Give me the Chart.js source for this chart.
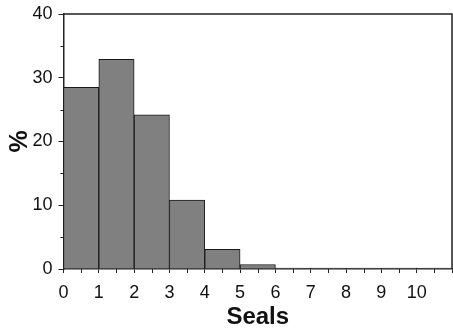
<!DOCTYPE html>
<html><head><meta charset="utf-8">
<script src="https://cdn.jsdelivr.net/npm/chart.js@4/dist/chart.umd.min.js"></script>
<style>html,body{margin:0;padding:0;background:#fff}#wrap{width:453px;height:334px}</style>
</head><body><div id="wrap"><canvas id="c" width="453" height="334"></canvas></div>
<script>
const binStarts = [0, 1, 2, 3, 4, 5, 6, 7, 8, 9, 10];
const percentages = [28.5, 32.9, 24.2, 10.8, 3.1, 0.7, 0.15, 0.15, 0.15, 0.15, 0.15];
const xTickLabels = ['0','1','2','3','4','5','6','7','8','9','10'];
const yTickLabels = ['0','10','20','30','40'];
const xMinorTicks = [0.5, 1.5, 2.5, 3.5, 4.5, 5.5, 6.5, 7.5, 8.5, 9.5, 10.5];
const yMinorTicks = [5, 15, 25, 35];
const xTitle = 'Seals';
const yTitle = '%';

const FONT = "'Liberation Sans', Arial, sans-serif";
const data = binStarts.map((s, i) => ({x: s + 0.5, y: percentages[i]}));

const framePlugin = {
  id: 'frame',
  afterDraw(chart) {
    const {ctx, chartArea: a, scales: {x, y}} = chart;
    ctx.save();
    ctx.strokeStyle = '#222';
    ctx.lineWidth = 1.5;
    ctx.beginPath();
    ctx.moveTo(a.left, a.top);
    ctx.lineTo(a.right, a.top);
    ctx.lineTo(a.right, a.bottom);
    ctx.stroke();
    ctx.lineWidth = 1;
    ctx.beginPath();
    xMinorTicks.forEach(v => {
      const px = Math.round(x.getPixelForValue(v)) + 0.5;
      ctx.moveTo(px, a.bottom);
      ctx.lineTo(px, a.bottom + 4);
    });
    yMinorTicks.forEach(v => {
      const py = Math.round(y.getPixelForValue(v)) + 0.5;
      ctx.moveTo(a.left, py);
      ctx.lineTo(a.left - 3, py);
    });
    ctx.stroke();
    ctx.restore();
  }
};

new Chart(document.getElementById('c'), {
  type: 'bar',
  data: {
    datasets: [{
      data: data,
      backgroundColor: '#808080',
      borderColor: '#1a1a1a',
      borderWidth: 1,
      barPercentage: 1,
      categoryPercentage: 1
    }]
  },
  options: {
    responsive: false,
    animation: false,
    events: [],
    layout: {padding: {top: 14, right: 1, left: 0, bottom: 0}},
    plugins: {legend: {display: false}, tooltip: {enabled: false}},
    scales: {
      x: {
        type: 'linear',
        min: 0, max: 11,
        offset: false,
        grid: {offset: false, drawOnChartArea: false, drawTicks: true, tickLength: 4, color: '#222', lineWidth: 1},
        border: {color: '#222', width: 1.5},
        ticks: {
          stepSize: 1, autoSkip: false, maxRotation: 0, padding: 9,
          color: '#111', font: {family: FONT, size: 18},
          callback: (v) => { const i = xTickLabels.indexOf(String(v)); return i >= 0 ? xTickLabels[i] : ''; }
        },
        title: {display: true, text: xTitle, color: '#111', font: {family: FONT, size: 24, weight: 'bold', lineHeight: 1}, padding: {top: 0, bottom: 5}},
        afterFit: (s) => { s.height = 65; s.paddingLeft = 0; s.paddingRight = 0; }
      },
      y: {
        type: 'linear',
        min: 0, max: 40,
        grid: {drawOnChartArea: false, drawTicks: true, tickLength: 5, color: '#222', lineWidth: 1},
        border: {color: '#222', width: 1.5},
        ticks: {
          stepSize: 10, autoSkip: false, padding: 6,
          color: '#111', font: {family: FONT, size: 18},
          callback: (v) => { const i = yTickLabels.indexOf(String(v)); return i >= 0 ? yTickLabels[i] : ''; }
        },
        title: {display: true, text: yTitle, color: '#111', font: {family: FONT, size: 25, weight: 'bold', lineHeight: 1}, padding: {top: 7.5, bottom: 0}},
        afterFit: (s) => { s.width = 63.5; s.paddingTop = 0; s.paddingBottom = 0; }
      }
    }
  },
  plugins: [framePlugin]
});
</script></body></html>
